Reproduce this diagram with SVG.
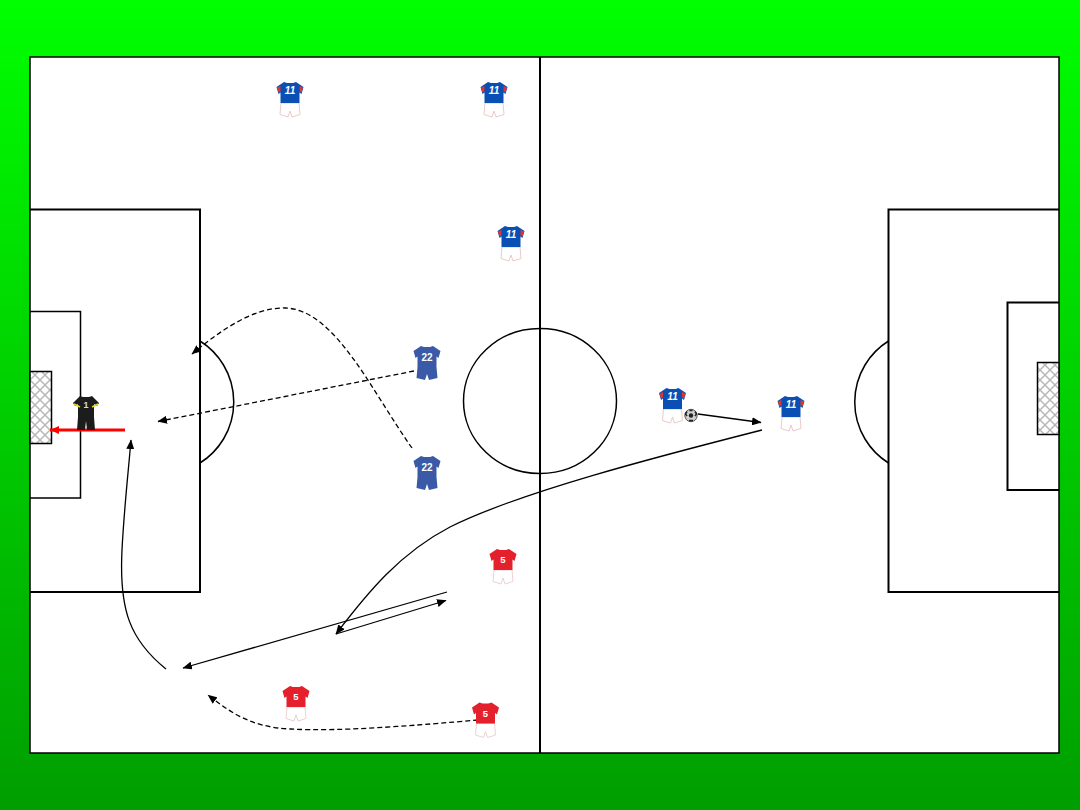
<svg xmlns="http://www.w3.org/2000/svg" width="1080" height="810" viewBox="0 0 1080 810">
<style>
.pitch{fill:none;stroke:#000;stroke-width:1.5}
.bold{fill:none;stroke:#000;stroke-width:2}
.net{fill:url(#mesh);stroke:#000;stroke-width:1.5}
.line{fill:none;stroke:#000;stroke-width:1.3;marker-end:url(#tip)}
.dash{stroke-dasharray:5 3}
.num{font-family:"Liberation Sans",Arial,sans-serif;font-weight:700;text-anchor:middle;fill:#fff}
</style>
<defs>
<linearGradient id="bg" x1="0" y1="0" x2="0" y2="1">
<stop offset="0" stop-color="#00ff00"/><stop offset="1" stop-color="#009e00"/>
</linearGradient>
<pattern id="mesh" width="10" height="10" patternUnits="userSpaceOnUse">
<rect width="10" height="10" fill="#fff"/>
<path d="M0 0L10 10M10 0L0 10" stroke="#b8b8b8" stroke-width="1.500"/>
</pattern>
<marker id="tip" markerUnits="userSpaceOnUse" markerWidth="10" markerHeight="8" refX="9" refY="4" orient="auto">
<path d="M0 0L9.500 4L0 8z" fill="#000"/>
</marker>
<marker id="tipRed" markerUnits="userSpaceOnUse" markerWidth="10" markerHeight="8" refX="9" refY="4" orient="auto">
<path d="M0 0L9 4L0 8z" fill="#f00"/>
</marker>
<!-- kit outlines, origin at the waist -->
<path id="shirt" d="M-6-17L-3-16H3L6-17L13.500-12L11.500-5L9.500-6.500V4H-9.500V-6.500L-11.500-5L-13.500-12z"/>
<path id="shorts" d="M-9 4H9L10 15.500L2 18L0 12L-2 18L-10 15.500z"/>
<g id="kitBlue">
<use href="#shorts" fill="#fff" stroke="#e6bcbc" stroke-width=".8"/>
<use href="#shirt" fill="#0a50b4"/>
<path d="M9.500-13L13-11.500L11.500-6.500L9.500-7.500z" fill="#e0342c"/><path d="M-9.500-13L-13-11.500L-11.500-6.500L-9.500-7.500z" fill="#e0342c"/>
<text class="num" x="0" y="-5" font-size="10" font-style="italic">11</text>
</g>
<g id="kitNavy">
<use href="#shirt" fill="#3a5aa8"/>
<path d="M-9.500 4H9.500L10.500 15L2 17L0 11L-2 17L-10.500 15z" fill="#3a5aa8"/>
<text class="num" x="0" y="-2" font-size="10">22</text>
</g>
<g id="kitRed">
<use href="#shorts" fill="#fff" stroke="#e6c6c6" stroke-width=".8"/>
<use href="#shirt" fill="#e4202c"/>
<text class="num" x="0" y="-3" font-size="9.500">5</text>
</g>
</defs>

<rect width="1080" height="810" fill="url(#bg)"/>

<g id="pitch">
<rect x="30" y="57" width="1029" height="696" fill="#fff" stroke="#000" stroke-width="1.500"/>
<path class="bold" d="M540 57V753"/>
<ellipse class="pitch" cx="540" cy="401" rx="76.500" ry="72.500"/>
<path class="bold" d="M30 209.500H200V592H30"/>
<path class="bold" d="M1059 592H888.500V209.500H1059"/>
<path class="pitch" d="M30 311.500H80.500V498H30"/>
<path class="bold" d="M1059 302.500H1007.500V490H1059"/>
<path class="pitch" d="M200 341A72 72 0 0 1 200 463"/>
<path class="pitch" d="M888.500 341A72 72 0 0 0 888.500 463"/>
<rect class="net" x="30" y="371.500" width="21.500" height="72"/>
<rect class="net" x="1037.500" y="362.500" width="21.500" height="72"/>
</g>

<g id="connectors">
<path class="line dash" d="M412 448C372 392 335 309 285 308C252 307 216 334 192 354"/>
<path class="line dash" d="M414 371L158 421.500"/>
<path class="line" d="M166 669C130 640 119 610 122 550C124 510 128 475 131 440"/>
<path class="line" d="M447 592L183 668"/>
<path class="line" d="M336 634L446 600.500"/>
<path class="line" d="M762 430C660 456 520 492 450 527C400 553 368 592 336 634"/>
<path class="line dash" d="M478 720C420 725 340 732 290 729C250 727 230 712 208 695"/>
<path class="line" d="M698 414L761 422.500"/>
<path d="M125 430H50" fill="none" stroke="#f00" stroke-width="3" marker-end="url(#tipRed)"/>
</g>

<g id="attacker-1"><use href="#kitBlue" x="290" y="99"/></g>
<g id="attacker-2"><use href="#kitBlue" x="494" y="99"/></g>
<g id="attacker-3"><use href="#kitBlue" x="511" y="243"/></g>
<g id="attacker-4"><use href="#kitBlue" x="672.500" y="405"/></g>
<g id="attacker-5"><use href="#kitBlue" x="791" y="413"/></g>
<g id="midfielder-1"><use href="#kitNavy" x="427" y="363"/></g>
<g id="midfielder-2"><use href="#kitNavy" x="427" y="473"/></g>
<g id="defender-1"><use href="#kitRed" x="503" y="566"/></g>
<g id="defender-2"><use href="#kitRed" x="296" y="703"/></g>
<g id="defender-3"><use href="#kitRed" x="485.500" y="719.500"/></g>
<g id="keeper">
<path d="M-6-17L-3-16H3L6-17L13-10L11-7L8-9V4L9 17H1L0 8L-1 17H-9L-8 4V-9L-11-7L-13-10z" transform="translate(86 413)" fill="#1c1c1c"/>
<path d="M74 404L80 407M98 404L92 407" stroke="#e6d820" stroke-width="1.500"/>
<text x="86" y="408" font-size="9" class="num" fill-opacity=".85">1</text>
</g>
<g id="ball">
<circle cx="691" cy="415.500" r="6.200" fill="#cfcfcf" stroke="#333" stroke-width=".8"/>
<circle cx="691" cy="415.500" r="2.200" fill="#222"/>
<path d="M687 411.500l-1.500 2.500 1.500 2M695 411.500l1.500 2.500-1.500 2M689 420.500h4M689.500 410.500h3" stroke="#222" stroke-width="1.500" fill="none"/>
</g>
</svg>
